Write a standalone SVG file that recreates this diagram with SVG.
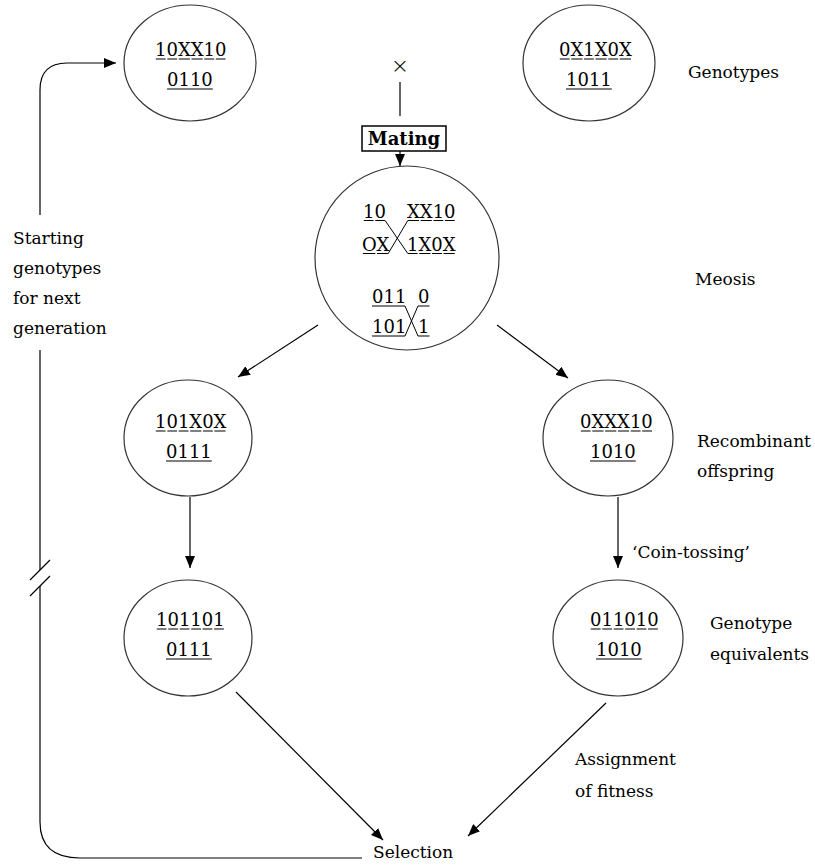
<svg xmlns="http://www.w3.org/2000/svg" width="815" height="865" viewBox="0 0 815 865">
<style>
text{font-family:"DejaVu Serif","Liberation Serif",serif;font-size:17px;fill:#000}
.g{font-size:18px}
.b{font-weight:bold;font-size:18px}
.x{font-family:"DejaVu Sans",sans-serif;font-size:22px;font-weight:200}
.n{fill:none;stroke:#333;stroke-width:1.2}
.c{fill:none;stroke:#000;stroke-width:1.2}
.u{fill:none;stroke:#000;stroke-width:1}
</style>
<defs>
<marker id="ah" viewBox="0 0 12 10" refX="12" refY="5" markerWidth="12" markerHeight="10" markerUnits="userSpaceOnUse" orient="auto">
<path d="M0,0 L12,5 L0,10 Z" fill="#000"/>
</marker>
</defs>
<rect width="815" height="865" fill="#fff"/>

<g id="parent1">
<ellipse class="n" cx="190" cy="63" rx="66" ry="58"/>
<text class="g" x="155" y="56">10XX10</text>
<path class="u" d="M155.8,59H165.6M167.3,59H177.1M178.7,59H189.9M191.5,59H202.7M204.3,59H214.2M215.8,59H225.6"/>
<text class="g" x="167" y="86">0110</text>
<path class="u" d="M167,89H212.8"/>
</g>

<g id="parent2">
<ellipse class="n" cx="589" cy="63" rx="66" ry="58"/>
<text class="g" x="559" y="56">0X1X0X</text>
<path class="u" d="M559.8,59H569.6M571.3,59H582.5M584.1,59H593.9M595.5,59H606.7M608.3,59H618.2M619.8,59H631"/>
<text class="g" x="566" y="86">1011</text>
<path class="u" d="M566,89H611.8"/>
</g>

<g id="cross">
<text class="x" x="400" y="73" text-anchor="middle">×</text>
</g>

<g id="mating">
<rect x="362" y="126" width="84" height="25" fill="#fff" stroke="#000" stroke-width="1.5"/>
<text class="b" x="404" y="145" text-anchor="middle">Mating</text>
</g>

<g id="meiosis">
<ellipse class="n" cx="407" cy="258" rx="92" ry="92"/>
<text class="g" x="363" y="218">10</text>
<path class="u" d="M363.8,220.5H373.6M375.3,220.5H385.1"/>
<text class="g" x="407" y="218">XX10</text>
<path class="u" d="M407.8,220.5H419M420.6,220.5H431.8M433.4,220.5H443.3M444.9,220.5H454.7"/>
<text class="g" x="362" y="251">OX</text>
<path class="u" d="M362.8,253.5H375.4M377,253.5H388.2"/>
<text class="g" x="407" y="251">1X0X</text>
<path class="u" d="M407.8,253.5H417.6M419.3,253.5H430.5M432.1,253.5H441.9M443.5,253.5H454.7"/>
<path class="u" d="M385.1,220.5L407.8,253.5M407.8,220.5L388.2,253.5"/>
<text class="g" x="372" y="303">011</text>
<path class="u" d="M372,306H405"/>
<text class="g" x="418" y="303">0</text>
<path class="u" d="M418,306H429.5"/>
<text class="g" x="372" y="333">101</text>
<path class="u" d="M372,336H405"/>
<text class="g" x="418" y="333">1</text>
<path class="u" d="M418,336H429.5"/>
<path class="u" d="M405,306L418,336M418,306L405,336"/>
</g>

<g id="offspring1">
<ellipse class="n" cx="188" cy="438" rx="64" ry="58"/>
<text class="g" x="155" y="428">101X0X</text>
<path class="u" d="M155.8,431H165.6M167.3,431H177.1M178.7,431H188.5M190.2,431H201.4M203,431H212.8M214.4,431H225.6"/>
<text class="g" x="166" y="458">0111</text>
<path class="u" d="M166,461H211.8"/>
</g>

<g id="offspring2">
<ellipse class="n" cx="608" cy="438" rx="65" ry="58"/>
<text class="g" x="580" y="428">0XXX10</text>
<path class="u" d="M580.8,431H590.6M592.3,431H603.5M605.1,431H616.3M617.9,431H629.1M630.7,431H640.6M642.2,431H652"/>
<text class="g" x="590" y="458">1010</text>
<path class="u" d="M590,461H635.8"/>
</g>

<g id="equiv1">
<ellipse class="n" cx="188" cy="638" rx="64" ry="58"/>
<text class="g" x="156" y="626">101101</text>
<path class="u" d="M156.8,629H166.6M168.3,629H178.1M179.7,629H189.5M191.2,629H201M202.6,629H212.4M214.1,629H223.9"/>
<text class="g" x="166" y="656">0111</text>
<path class="u" d="M166,659H211.8"/>
</g>

<g id="equiv2">
<ellipse class="n" cx="618" cy="638" rx="65" ry="58"/>
<text class="g" x="590" y="626">011010</text>
<path class="u" d="M590.8,629H600.6M602.3,629H612.1M613.7,629H623.5M625.2,629H635M636.6,629H646.4M648.1,629H657.9"/>
<text class="g" x="596" y="656">1010</text>
<path class="u" d="M596,659H641.8"/>
</g>

<g id="selection">
<text x="373" y="858">Selection</text>
</g>

<g id="labels">
<text x="688" y="78">Genotypes</text>
<text x="695" y="285">Meosis</text>
<text x="697" y="447">Recombinant</text>
<text x="697" y="477">offspring</text>
<text x="632" y="558">‘Coin-tossing’</text>
<text x="710" y="629">Genotype</text>
<text x="710" y="660">equivalents</text>
<text x="575" y="765">Assignment</text>
<text x="575" y="797">of fitness</text>
<text x="13" y="244">Starting</text>
<text x="13" y="274">genotypes</text>
<text x="13" y="304">for next</text>
<text x="13" y="334">generation</text>
</g>

<g id="connectors">
<path class="c" d="M400,82V116"/>
<path class="c" d="M400,151V166" marker-end="url(#ah)"/>
<path class="c" d="M318,325L238,377" marker-end="url(#ah)"/>
<path class="c" d="M497,325L568,378" marker-end="url(#ah)"/>
<path class="c" d="M190,497V568" marker-end="url(#ah)"/>
<path class="c" d="M618,497V568" marker-end="url(#ah)"/>
<path class="c" d="M236,692L383,840" marker-end="url(#ah)"/>
<path class="c" d="M606,703L468,836" marker-end="url(#ah)"/>
<path class="c" d="M40,215V90Q40,63 67,63H116" marker-end="url(#ah)"/>
<path class="c" d="M40,350V570M40,586V822Q40,858 80,858H362"/>
<path class="c" d="M30,580L50,560M30,596L50,576"/>
</g>
</svg>
